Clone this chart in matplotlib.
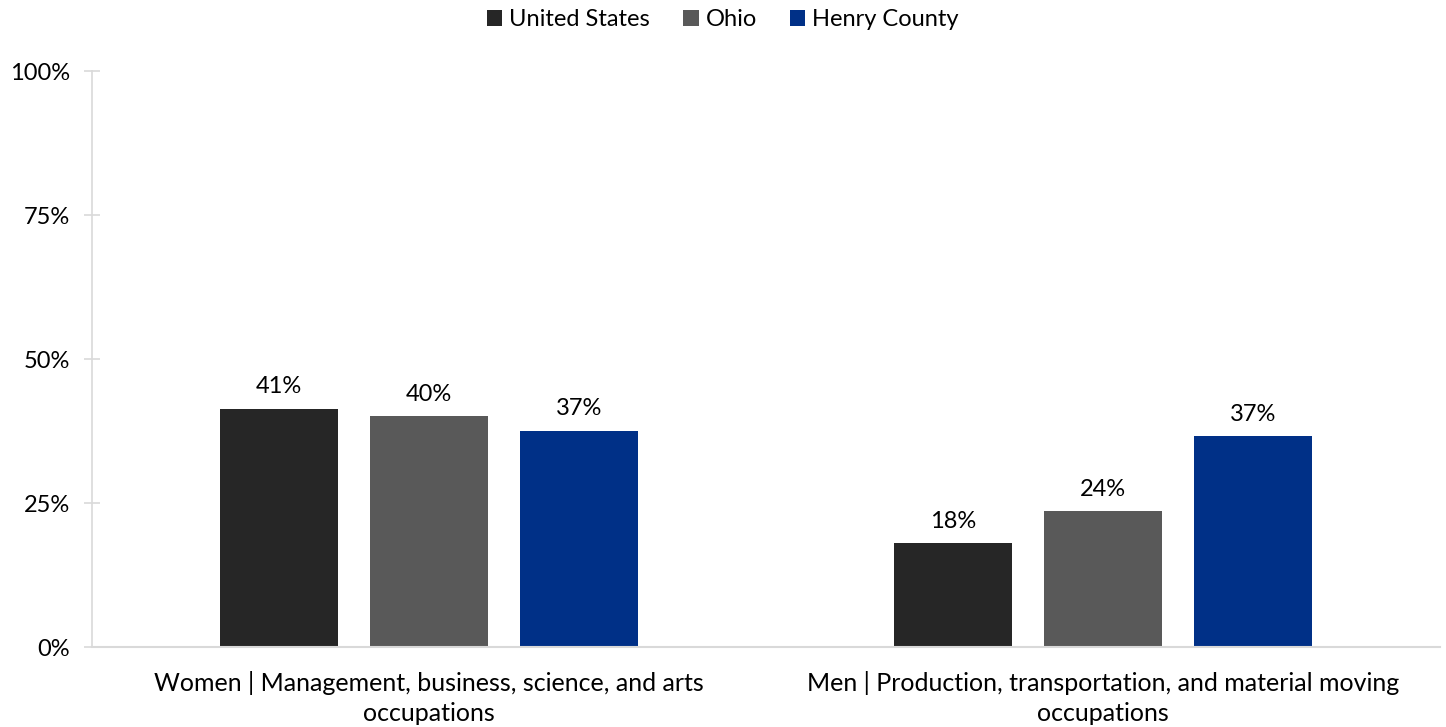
import matplotlib
matplotlib.use("Agg")
import matplotlib.pyplot as plt
import numpy as np

plt.rcParams['font.family'] = ['Lato', 'DejaVu Sans']

categories = ["Women | Management, business, science, and arts\noccupations",
              "Men | Production, transportation, and material moving\noccupations"]
series = ["United States", "Ohio", "Henry County"]
values = {
    "United States": [41.4, 18.0],
    "Ohio": [40.1, 23.6],
    "Henry County": [37.5, 36.6],
}
labels = {
    "United States": ["41%", "18%"],
    "Ohio": ["40%", "24%"],
    "Henry County": ["37%", "37%"],
}
colors = ["#262626", "#595959", "#003087"]
yticks = [0, 25, 50, 75, 100]
ytick_labels = ["0%", "25%", "50%", "75%", "100%"]

fig = plt.figure(figsize=(14.46, 7.27), dpi=100)
ax = fig.add_axes([92/1446, 80/727, 1348/1446, 576/727])

x = np.arange(len(categories))
width = 0.175
step = 0.222
for i, s in enumerate(series):
    pos = x + (i - 1) * step
    bars = ax.bar(pos, values[s], width=width, color=colors[i], label=s, zorder=2)
    for b, lab in zip(bars, labels[s]):
        ax.text(b.get_x() + b.get_width()/2, b.get_height() + 2.0, lab,
                ha='center', va='bottom', fontsize=17, color='#000000')

ax.set_xlim(-0.5, 1.5)
ax.set_ylim(0, 100)
ax.set_yticks(yticks)
ax.set_yticklabels(ytick_labels, fontsize=17)
ax.set_xticks(x)
ax.set_xticklabels(categories, fontsize=18, linespacing=1.4)
ax.tick_params(axis='x', length=0, pad=17)
ax.tick_params(axis='y', length=12, direction='inout', color='#d9d9d9', width=1.2, pad=10)
for sp in ['top', 'right']:
    ax.spines[sp].set_visible(False)
ax.spines['left'].set_color('#d9d9d9')
ax.spines['bottom'].set_color('#d9d9d9')
ax.spines['left'].set_linewidth(1.2)
ax.spines['bottom'].set_linewidth(1.5)

fig.legend(loc='upper center', bbox_to_anchor=(0.5, 1.0), ncol=3, frameon=False,
           fontsize=17, handlelength=0.65, handleheight=0.65, handletextpad=0.3,
           columnspacing=1.4, borderaxespad=0.0)

fig.savefig("out.png", dpi=100)
